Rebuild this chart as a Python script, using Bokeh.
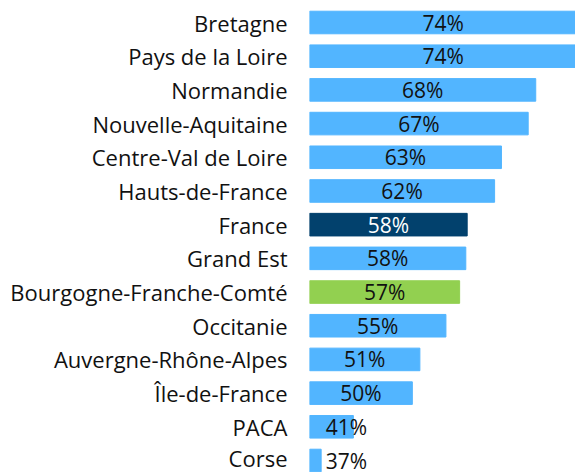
from bokeh.plotting import figure
from bokeh.models import ColumnDataSource, FixedTicker, Range1d
from bokeh.core.properties import value
from bokeh.embed import file_html
from bokeh.resources import INLINE

regions = ["Bretagne", "Pays de la Loire", "Normandie", "Nouvelle-Aquitaine",
           "Centre-Val de Loire", "Hauts-de-France", "France", "Grand Est",
           "Bourgogne-Franche-Comté", "Occitanie", "Auvergne-Rhône-Alpes",
           "Île-de-France", "PACA", "Corse"]
values = [74.0, 74.0, 68.0, 66.9, 63.0, 62.0, 58.0, 57.8, 56.9, 54.9, 51.1, 50.0, 41.4, 36.7]
labels = ["74%", "74%", "68%", "67%", "63%", "62%", "58%", "58%", "57%", "55%",
          "51%", "50%", "41%", "37%"]
colors = ["#52B5FF"] * 14
colors[6] = "#02416D"
colors[8] = "#92D050"
text_colors = ["#111111"] * 14
text_colors[6] = "#FFFFFF"

X0 = 35.0
X1 = 73.8
MIN_LABEL = 40.4

n = len(regions)
ys = [n - 1 - i for i in range(n)]
label_x = [max((X0 + v) / 2, MIN_LABEL) for v in values]

src = ColumnDataSource(dict(y=ys, v=values, left=[X0] * n, c=colors,
                            lab=labels, lx=label_x, tc=text_colors))

p = figure(width=575, height=472, output_backend="svg", toolbar_location=None,
           x_range=Range1d(X0, X1), y_range=Range1d(-0.356, n - 1 + 0.653),
           min_border_left=309, min_border_right=0, min_border_top=0,
           min_border_bottom=0, x_axis_location=None)
p.hbar(y="y", left="left", right="v", height=0.67, color="c", source=src)
p.text(x="lx", y="y", text="lab", text_color="tc", text_align="center",
       text_baseline="middle", text_font=value("Open Sans"),
       text_font_size="21px", source=src)

p.yaxis.ticker = FixedTicker(ticks=ys)
p.yaxis.major_label_overrides = {y: r for y, r in zip(ys, regions)}
p.yaxis.axis_line_color = None
p.yaxis.major_tick_line_color = None
p.yaxis.minor_tick_line_color = None
p.yaxis.major_tick_out = 0
p.yaxis.major_label_standoff = 22
p.yaxis.major_label_text_font = "Open Sans"
p.yaxis.major_label_text_font_size = "22px"
p.yaxis.major_label_text_color = "#111111"
p.xgrid.visible = False
p.ygrid.visible = False
p.outline_line_color = None

open("out.html", "w").write(file_html(p, INLINE))
